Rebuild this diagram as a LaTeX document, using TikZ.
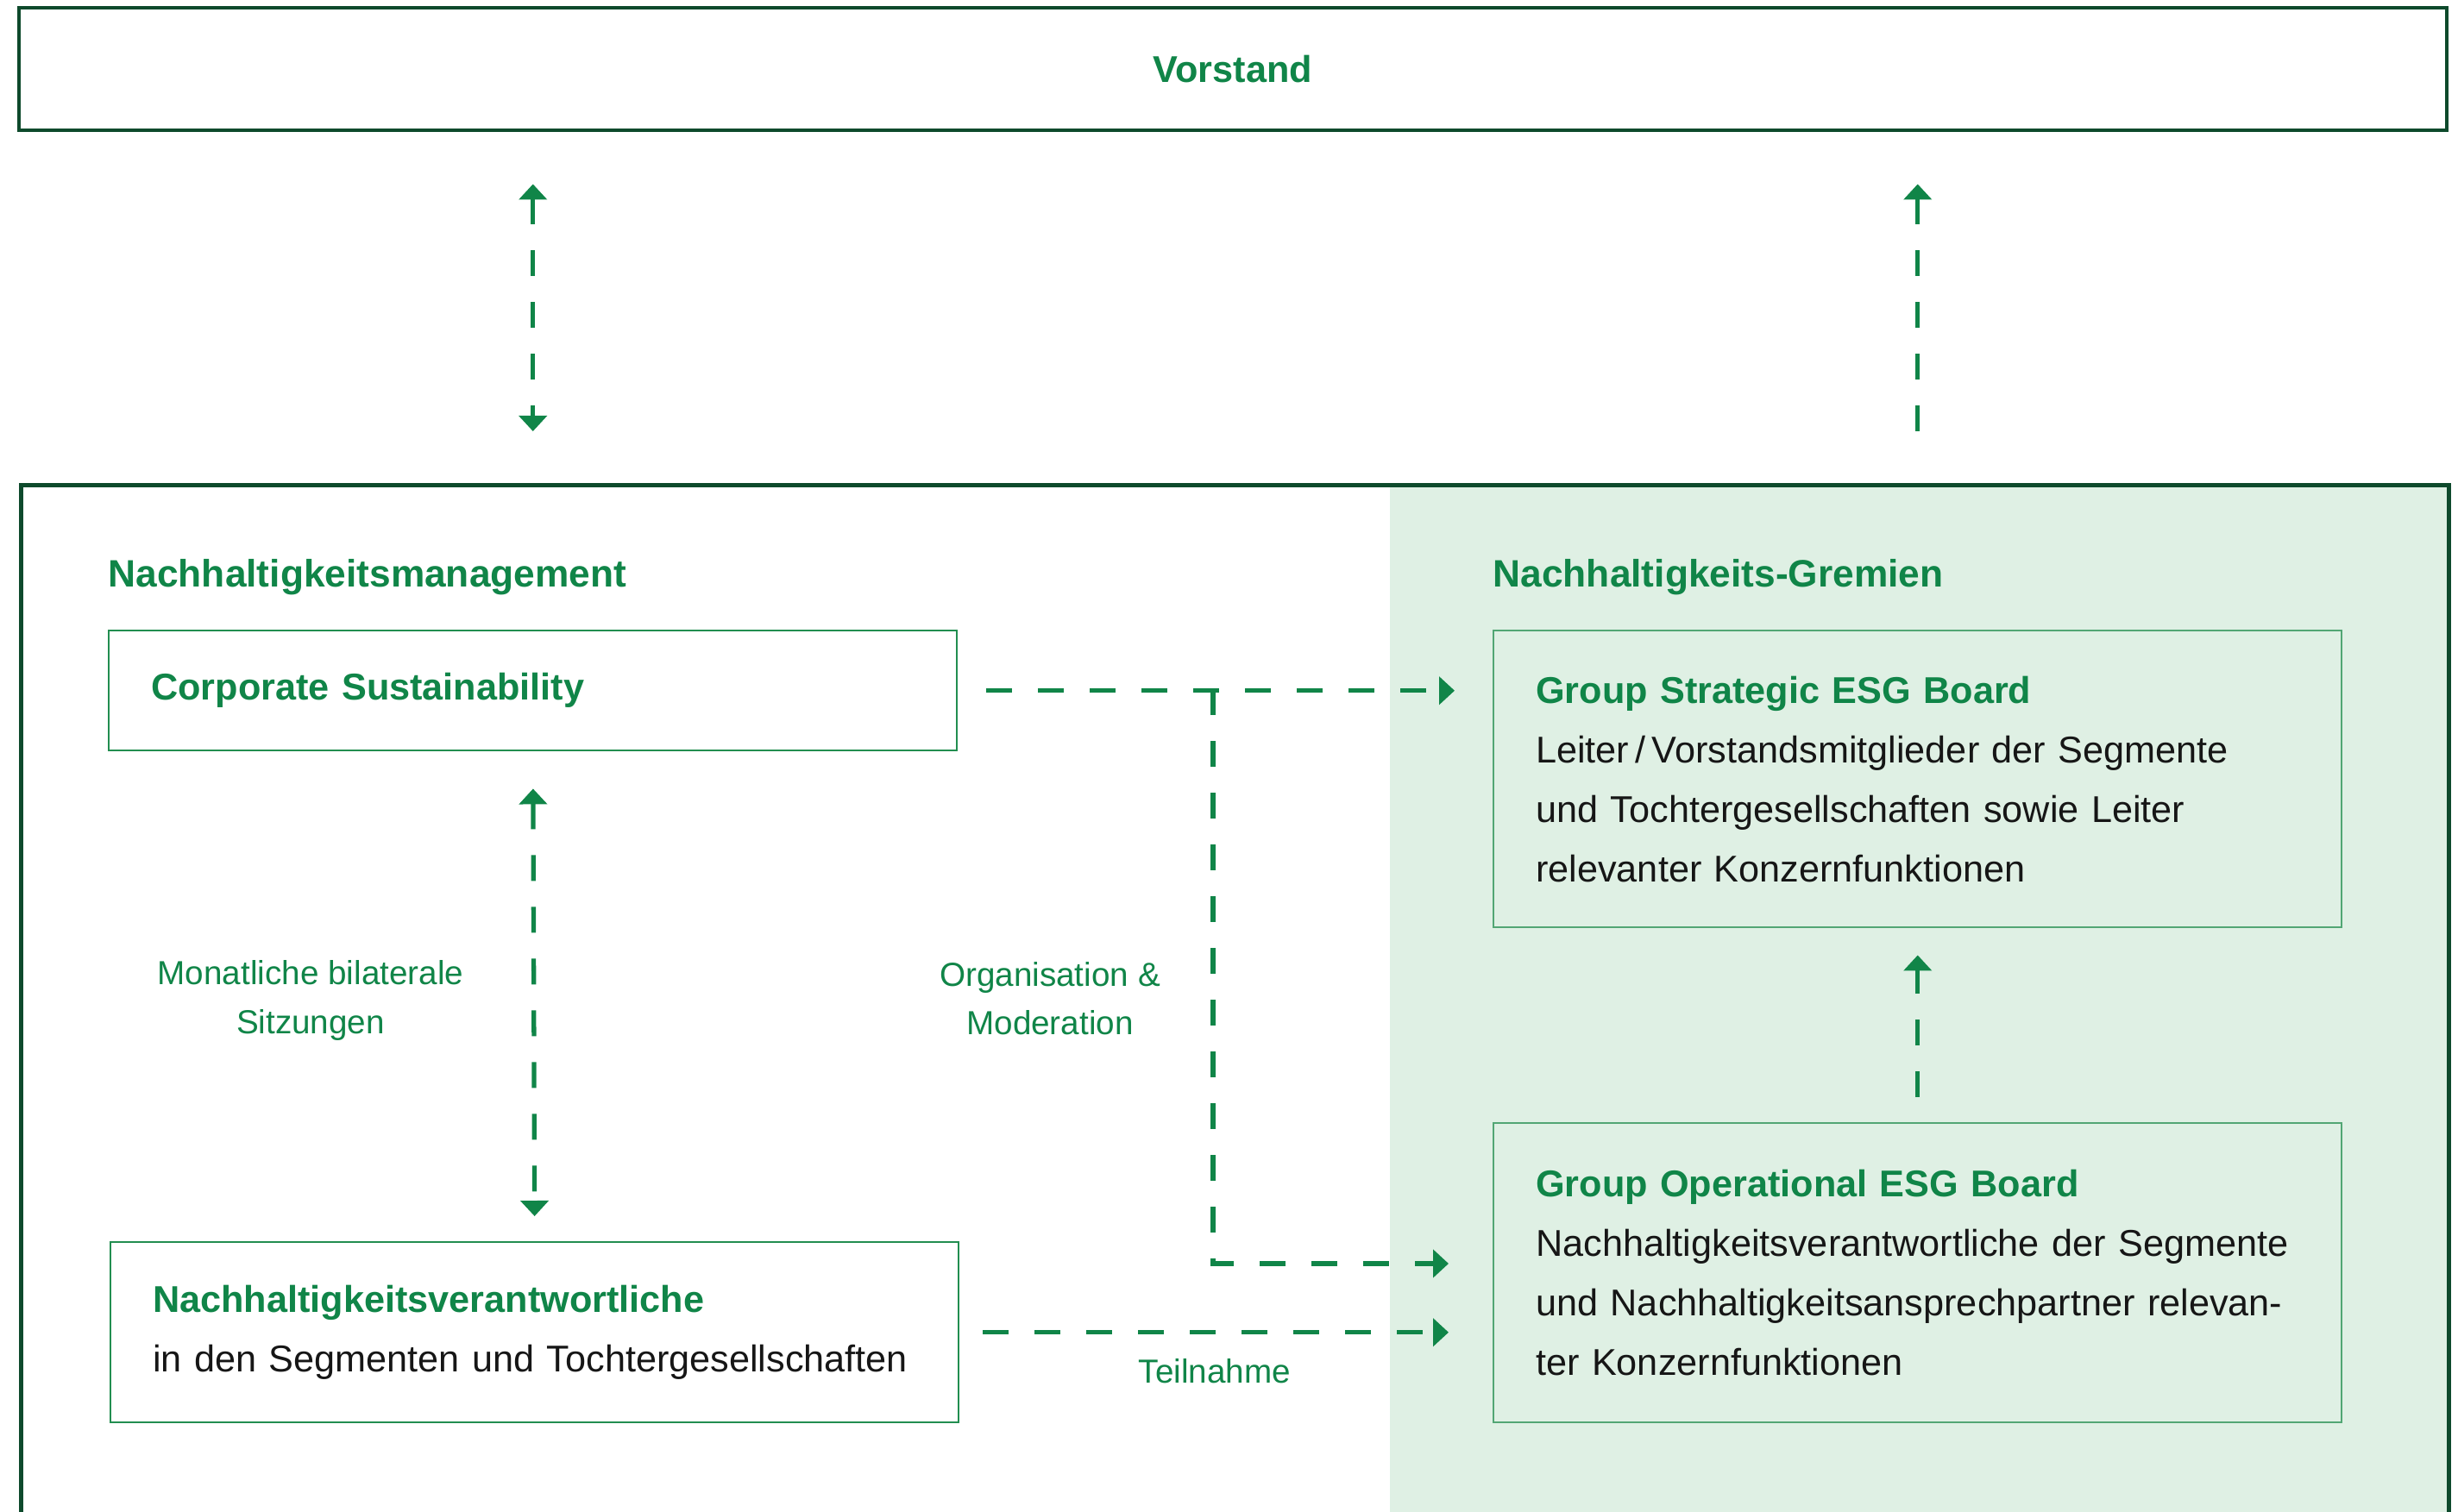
\documentclass[tikz,border=0pt]{standalone}
\usepackage{fontspec}
\setmainfont{Liberation Sans}
\usetikzlibrary{arrows.meta,positioning}
\definecolor{dkgreen}{RGB}{14,74,44}
\definecolor{esggreen}{RGB}{16,133,72}
\definecolor{boxline}{RGB}{34,142,80}
\definecolor{paleline}{RGB}{82,166,116}
\definecolor{palefill}{RGB}{223,240,228}
\definecolor{bodytext}{RGB}{22,22,22}

\begin{document}
\begin{tikzpicture}
  [font=\fontsize{12.3}{19.6}\selectfont, text=bodytext,
   >={Triangle[length=1.8mm,width=3.2mm]},
   frame/.style={draw=dkgreen, line width=1.4pt},
   unit/.style={draw=boxline, line width=0.7pt, anchor=north west, align=left,
     inner xsep=0.49cm, text width=8.85cm, minimum width=9.83cm},
   head/.style={text=esggreen, font=\fontsize{12.6}{19.6}\selectfont\bfseries, inner sep=0pt},
   link/.style={draw=esggreen, line width=1.5pt, dash pattern=on 0.3cm off 0.3cm},
   note/.style={text=esggreen, font=\fontsize{11}{16}\selectfont, align=center}]
  \useasboundingbox (0,0) rectangle (28.49,-17.53);

  % top box and the open frame below it
  \node[frame, minimum width=28.14cm, minimum height=1.42cm] (vorstand) at (14.29,-0.80)
    {\textcolor{esggreen}{\bfseries Vorstand}};
  \node[fill=palefill, anchor=north west, minimum width=12.26cm, minimum height=12.4cm,
    inner sep=0pt] (gremien) at (16.10,-5.60) {};
  \node[frame, anchor=north west, minimum width=28.14cm, minimum height=12.4cm] (frame)
    at (0.22,-5.60) {};

  \node[head, anchor=west] (mgmt) at (1.25,-6.69) {Nachhaltigkeitsmanagement};
  \node[head, anchor=west] (grem) at (17.30,-6.69) {Nachhaltigkeits-Gremien};

  % boxes
  \node[unit, minimum height=1.39cm] (cs) at (1.25,-7.30)
    {\textcolor{esggreen}{\bfseries Corporate Sustainability}};
  \node[unit, minimum height=2.09cm] (nv) at (1.27,-14.39)
    {\textcolor{esggreen}{\bfseries Nachhaltigkeitsverantwortliche}\\
     in den Segmenten und Tochtergesellschaften};
  \node[unit, draw=paleline, minimum height=3.44cm] (gsb) at (17.30,-7.30)
    {\textcolor{esggreen}{\bfseries Group Strategic ESG Board}\\
     Leiter\,/\,Vorstandsmitglieder der Segmente\\
     und Tochtergesellschaften sowie Leiter\\
     relevanter Konzernfunktionen};
  \node[unit, draw=paleline, minimum height=3.47cm] (gob) at (17.30,-13.01)
    {\textcolor{esggreen}{\bfseries Group Operational ESG Board}\\
     Nachhaltigkeitsverantwortliche der Segmente\\
     und Nachhaltigkeitsansprechpartner relevan-\\
     ter Konzernfunktionen};

  % connectors
  \draw[link, <->, shorten <=0.6cm, shorten >=0.6cm]
    (vorstand.south -| cs.north) -- (cs.north |- frame.north);
  \draw[link, ->, shorten <=0.6cm, shorten >=0.6cm]
    (gsb.north |- frame.north) -- (gsb.north |- vorstand.south);
  \draw[link, <->, shorten <=0.43cm, shorten >=0.29cm] (cs.south) -- (nv.north);
  \draw[link, ->, shorten <=0.33cm, shorten >=0.44cm] (cs.east) -- (cs.east -| gsb.west);
  \coordinate (jn) at (14.06,-7.99);
  \coordinate (bend) at (14.06,-14.65);
  \draw[link, ->, shorten >=0.51cm] (jn) -- (bend) -- (bend -| gob.west);
  \draw[link, ->, shorten <=0.27cm, shorten >=0.51cm] (nv.east) -- (nv.east -| gob.west);
  \draw[link, ->, shorten <=0.29cm, shorten >=0.31cm] (gob.north) -- (gsb.south);

  % labels
  \node[note] (monat) at (3.60,-11.60) {Monatliche bilaterale\\Sitzungen};
  \node[note] (orga) at (12.17,-11.58) {Organisation \&\\Moderation};
  \node[note] (teil) at (14.08,-15.90) {Teilnahme};
\end{tikzpicture}
\end{document}
